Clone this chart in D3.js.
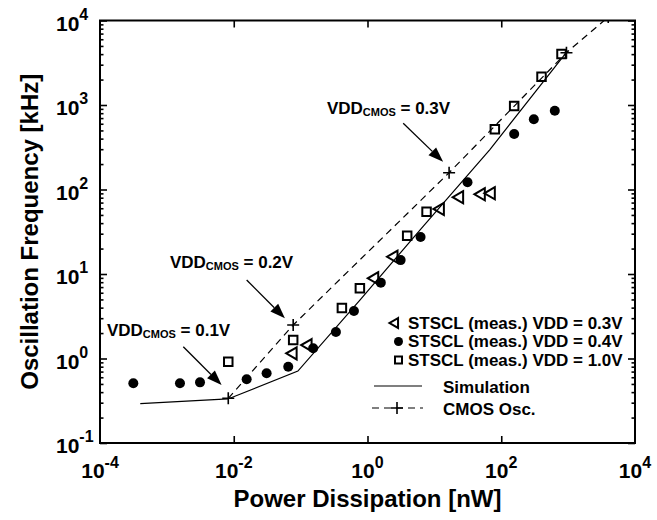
<!DOCTYPE html>
<html><head><meta charset="utf-8">
<script src="https://cdn.jsdelivr.net/npm/d3@7"></script>
<style>
body{margin:0;background:#fff}
svg{display:block}
text{font-family:"Liberation Sans",Arial,Helvetica,sans-serif;font-weight:bold;fill:#000}
</style>
</head><body>
<svg id="chart" width="657" height="520"></svg>
<script>
// ---------------- data ----------------
const xTickExps = [-4, -2, 0, 2, 4];           // x tick labels 10^e
const yTickExps = [-1, 0, 1, 2, 3, 4];         // y tick labels 10^e

// STSCL (meas.) VDD = 0.3V  (open left triangles)
const v03Power = [0.0735, 0.123, 1.22, 2.37, 11.7, 22.7, 47.9, 67.6];
const v03Freq  = [1.15, 1.44, 8.9, 16.0, 58.8, 81, 87.8, 90.2];

// STSCL (meas.) VDD = 0.4V  (filled circles)
const v04Power = [3.15e-4, 1.57e-3, 3.13e-3, 0.0156, 0.031, 0.0653, 0.154, 0.337, 0.627, 1.58, 3.13, 6.22, 31.3, 156, 307, 632];
const v04Freq  = [0.509, 0.509, 0.522, 0.567, 0.668, 0.80, 1.32, 2.06, 3.65, 7.9, 14.6, 27.4, 122, 454, 678, 857];

// STSCL (meas.) VDD = 1.0V  (open squares)
const v10Power = [0.00828, 0.0774, 0.414, 0.769, 3.92, 7.64, 80.2, 156, 400, 796];
const v10Freq  = [0.916, 1.66, 3.96, 6.77, 28.4, 54.6, 517, 973, 2160, 4015];

// Simulation (solid line)
const simPower = [4.0e-4, 0.0082, 0.091, 0.77, 6.4, 67.6, 989];
const simFreq  = [0.293, 0.332, 0.71, 4.92, 34.7, 297, 4390];

// CMOS Osc. (dashed line with + markers); last point lies beyond the frame
const cmosPower = [0.00828, 0.0774, 16.6, 944, 3980];
const cmosFreq  = [0.338, 2.49, 158, 4160, 11000];

// Annotations: label position, arrow tail, arrow tip (data coordinates)
const annoVolts = ["0.1V", "0.2V", "0.3V"];
const annoLabelX = [1.27e-4, 1.11e-3, 0.247];
const annoLabelY = [1.85, 11.8, 782];
const annoTailX = [1.76e-3, 0.0156, 3.42];
const annoTailY = [1.38, 8.49, 607];
const annoTipX  = [6.58e-3, 0.0582, 13.5];
const annoTipY  = [0.485, 2.99, 213];

const legendLabels = ["STSCL (meas.) VDD = 0.3V", "STSCL (meas.) VDD = 0.4V", "STSCL (meas.) VDD = 1.0V", "Simulation", "CMOS Osc."];

// ---------------- chart ----------------
const svg = d3.select("#chart");
const L = 100, R = 635, T = 20.5, B = 443;
const x = d3.scaleLog().domain([1e-4, 1e4]).range([L, R]);
const y = d3.scaleLog().domain([1e-1, 1e4]).range([B, T]);

const zip = (a, b) => a.map((v, i) => [v, b[i]]);

svg.append("defs").append("clipPath").attr("id", "clip")
  .append("rect").attr("x", L).attr("y", T).attr("width", R - L).attr("height", B - T);

// ticks
const xMajor = xTickExps.slice(1, -1).map(e => Math.pow(10, e));
const yMajor = yTickExps.map(e => Math.pow(10, e));
const yMinor = [];
yTickExps.slice(0, -1).forEach(e => { for (let k = 2; k <= 9; k++) yMinor.push(k * Math.pow(10, e)); });

function styleAxis(g) {
  g.select(".domain").remove();
  g.selectAll(".tick line").attr("stroke", "#000").attr("stroke-width", 1.6);
}
svg.append("g").attr("transform", `translate(0,${B})`)
  .call(d3.axisBottom(x).tickValues(xMajor).tickSizeInner(-7).tickSizeOuter(0).tickFormat("")).call(styleAxis);
svg.append("g").attr("transform", `translate(0,${T})`)
  .call(d3.axisTop(x).tickValues(xMajor).tickSizeInner(-7).tickSizeOuter(0).tickFormat("")).call(styleAxis);
svg.append("g").attr("transform", `translate(${L},0)`)
  .call(d3.axisLeft(y).tickValues(yMajor).tickSizeInner(-7).tickSizeOuter(0).tickFormat("")).call(styleAxis);
svg.append("g").attr("transform", `translate(${L},0)`)
  .call(d3.axisLeft(y).tickValues(yMinor).tickSizeInner(-3.5).tickSizeOuter(0).tickFormat("")).call(styleAxis);
svg.append("g").attr("transform", `translate(${R},0)`)
  .call(d3.axisRight(y).tickValues(yMajor).tickSizeInner(-7).tickSizeOuter(0).tickFormat("")).call(styleAxis);
svg.append("g").attr("transform", `translate(${R},0)`)
  .call(d3.axisRight(y).tickValues(yMinor).tickSizeInner(-3.5).tickSizeOuter(0).tickFormat("")).call(styleAxis);

// frame
svg.append("rect").attr("x", L).attr("y", T).attr("width", R - L).attr("height", B - T)
  .attr("fill", "none").attr("stroke", "#000").attr("stroke-width", 2);

// tick labels
xTickExps.forEach(e => {
  const t = svg.append("text").attr("x", x(Math.pow(10, e))).attr("y", B + 35).attr("text-anchor", "middle");
  t.append("tspan").attr("font-size", 21).text("10");
  t.append("tspan").attr("font-size", 16).attr("dy", -10).text(String(e).replace("-", "-"));
});
yTickExps.forEach(e => {
  const t = svg.append("text").attr("x", 56).attr("y", y(Math.pow(10, e)) + 10).attr("text-anchor", "start");
  t.append("tspan").attr("font-size", 21).text("10");
  t.append("tspan").attr("font-size", 16).attr("dy", -11).text(String(e));
});

// axis titles
svg.append("text").attr("x", (L + R) / 2).attr("y", 507).attr("text-anchor", "middle")
  .attr("font-size", 24).text("Power Dissipation [nW]");
svg.append("text").attr("transform", `translate(38,${(T + B) / 2}) rotate(-90)`).attr("text-anchor", "middle")
  .attr("font-size", 24).text("Oscillation Frequency [kHz]");

// plot content
const plot = svg.append("g").attr("clip-path", "url(#clip)");
const line = d3.line().x(d => x(d[0])).y(d => y(d[1]));

plot.append("path").datum(zip(simPower, simFreq)).attr("d", line)
  .attr("fill", "none").attr("stroke", "#000").attr("stroke-width", 1.2);
plot.append("path").datum(zip(cmosPower, cmosFreq)).attr("d", line)
  .attr("fill", "none").attr("stroke", "#000").attr("stroke-width", 1.2).attr("stroke-dasharray", "7,5");

const triPath = s => `M${s * 0.45},${-s * 0.55}L${-s * 0.5},0L${s * 0.45},${s * 0.55}Z`;
const sqPath = s => `M${-s / 2},${-s / 2}h${s}v${s}h${-s}Z`;
const plusPath = s => `M${-s / 2},0h${s}M0,${-s / 2}v${s}`;

function markers(data, path, fill) {
  plot.append("g").selectAll("path").data(data).join("path")
    .attr("transform", d => `translate(${x(d[0])},${y(d[1])})`)
    .attr("d", path)
    .attr("fill", fill ? "#000" : "none")
    .attr("stroke", "#000").attr("stroke-width", fill ? 0 : 2);
}
markers(zip(v03Power, v03Freq), triPath(11), false);
plot.append("g").selectAll("circle").data(zip(v04Power, v04Freq)).join("circle")
  .attr("cx", d => x(d[0])).attr("cy", d => y(d[1])).attr("r", 5).attr("fill", "#000");
markers(zip(v10Power, v10Freq), sqPath(8.5), false);
plot.append("g").selectAll("path").data(zip(cmosPower, cmosFreq)).join("path")
  .attr("transform", d => `translate(${x(d[0])},${y(d[1])})`)
  .attr("d", plusPath(12)).attr("fill", "none").attr("stroke", "#000").attr("stroke-width", 1.6);

// annotations
annoVolts.forEach((v, i) => {
  const t = svg.append("text").attr("x", x(annoLabelX[i])).attr("y", y(annoLabelY[i])).attr("font-size", 17);
  t.append("tspan").text("VDD");
  t.append("tspan").attr("font-size", 11).attr("dy", 2).text("CMOS");
  t.append("tspan").attr("dy", -2).text(" = " + v);
  const x1 = x(annoTailX[i]), y1 = y(annoTailY[i]), x2 = x(annoTipX[i]), y2 = y(annoTipY[i]);
  const ang = Math.atan2(y2 - y1, x2 - x1);
  const hl = 15, hw = 5.5;
  const bx = x2 - hl * Math.cos(ang), by = y2 - hl * Math.sin(ang);
  svg.append("line").attr("x1", x1).attr("y1", y1).attr("x2", bx).attr("y2", by)
    .attr("stroke", "#000").attr("stroke-width", 1.3);
  svg.append("path").attr("d",
    `M${x2},${y2}L${bx - hw * Math.sin(ang)},${by + hw * Math.cos(ang)}L${bx + hw * Math.sin(ang)},${by - hw * Math.cos(ang)}Z`)
    .attr("fill", "#000");
});

// legend
const lg = svg.append("g");
const rowY = [328.5, 347, 365.5];
lg.append("path").attr("transform", `translate(394,${rowY[0] - 5.5})`).attr("d", triPath(9))
  .attr("fill", "none").attr("stroke", "#000").attr("stroke-width", 2);
lg.append("circle").attr("cx", 398.5).attr("cy", rowY[1] - 5.5).attr("r", 4.5).attr("fill", "#000");
lg.append("path").attr("transform", `translate(398.5,${rowY[2] - 5.5})`).attr("d", sqPath(7))
  .attr("fill", "none").attr("stroke", "#000").attr("stroke-width", 2);
[0, 1, 2].forEach(i => lg.append("text").attr("x", 408).attr("y", rowY[i]).attr("font-size", 17).text(legendLabels[i]));

lg.append("line").attr("x1", 374).attr("x2", 422).attr("y1", 386).attr("y2", 386)
  .attr("stroke", "#000").attr("stroke-width", 1.2);
lg.append("text").attr("x", 443).attr("y", 392.5).attr("font-size", 17).text(legendLabels[3]);
lg.append("line").attr("x1", 372).attr("x2", 423).attr("y1", 408).attr("y2", 408)
  .attr("stroke", "#000").attr("stroke-width", 1.2).attr("stroke-dasharray", "7,5");
lg.append("path").attr("transform", "translate(397,408)").attr("d", plusPath(12))
  .attr("stroke", "#000").attr("stroke-width", 1.6);
lg.append("text").attr("x", 443).attr("y", 414.5).attr("font-size", 17).text(legendLabels[4]);
</script>
</body></html>
